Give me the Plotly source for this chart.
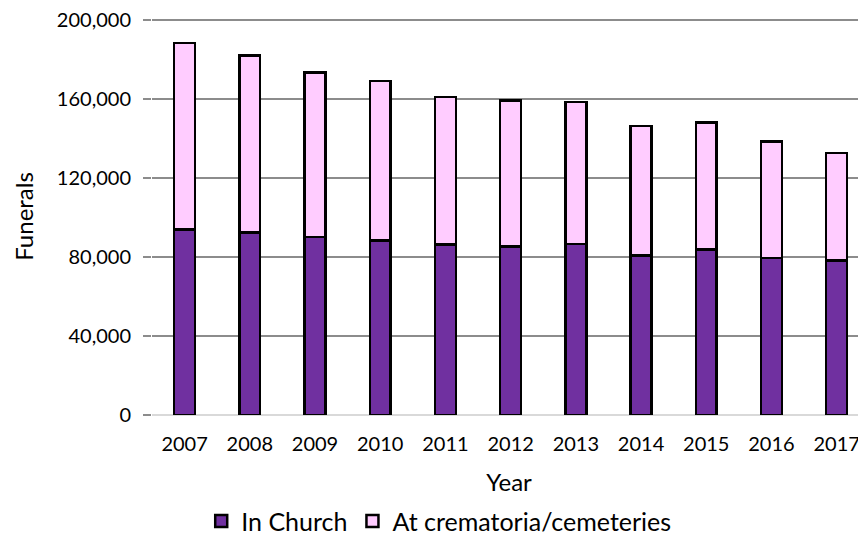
import plotly.graph_objects as go

years = ["2007", "2008", "2009", "2010", "2011", "2012", "2013", "2014", "2015", "2016", "2017"]
in_church = [94000, 92300, 90200, 88400, 86300, 85200, 86500, 80800, 83800, 79400, 78100]
totals = [188400, 182100, 173400, 169000, 161100, 159200, 158500, 146200, 148200, 138400, 132700]
at_crematoria = [t - c for t, c in zip(totals, in_church)]
y_ticks = [0, 40000, 80000, 120000, 160000, 200000]
y_tick_labels = ["0", "40,000", "80,000", "120,000", "160,000", "200,000"]

FONT = "Lato"

fig = go.Figure()
fig.add_trace(go.Bar(x=years, y=in_church, name="In Church",
                     marker=dict(color="#7030A0", line=dict(color="black", width=2.5))))
fig.add_trace(go.Bar(x=years, y=at_crematoria, name="At crematoria/cemeteries",
                     marker=dict(color="#FFCCFF", line=dict(color="black", width=2.5))))

fig.update_layout(
    width=858, height=529,
    barmode="stack", bargap=0.68,
    plot_bgcolor="white", paper_bgcolor="white",
    margin=dict(l=144, r=0, t=10, b=122, autoexpand=False),
    font=dict(family=FONT, size=20, color="black"),
    legend=dict(orientation="h", xref="container", yref="container",
                x=0.502, y=0.03, xanchor="center", yanchor="middle",
                font=dict(size=25), itemwidth=30, traceorder="normal"),
    xaxis=dict(title=dict(text="Year", font=dict(size=24), standoff=20),
               range=[-0.5, 10.45], tickfont=dict(size=20), showline=False,
               ticks="", ticklabelstandoff=15, automargin=False,
               ticklabeloverflow="allow"),
    yaxis=dict(title=dict(text="Funerals", font=dict(size=24), standoff=16),
               range=[0, 201000], tickvals=y_ticks, ticktext=y_tick_labels,
               tickfont=dict(size=20), showgrid=True, gridcolor="#8c8c8c", gridwidth=2,
               zeroline=True, zerolinecolor="#d9d9d9", zerolinewidth=2,
               ticks="outside", ticklen=8, tickcolor="#8c8c8c", tickwidth=2,
               ticklabelstandoff=8, automargin=False, ticklabeloverflow="allow"),
)

fig.write_html("out.html")
